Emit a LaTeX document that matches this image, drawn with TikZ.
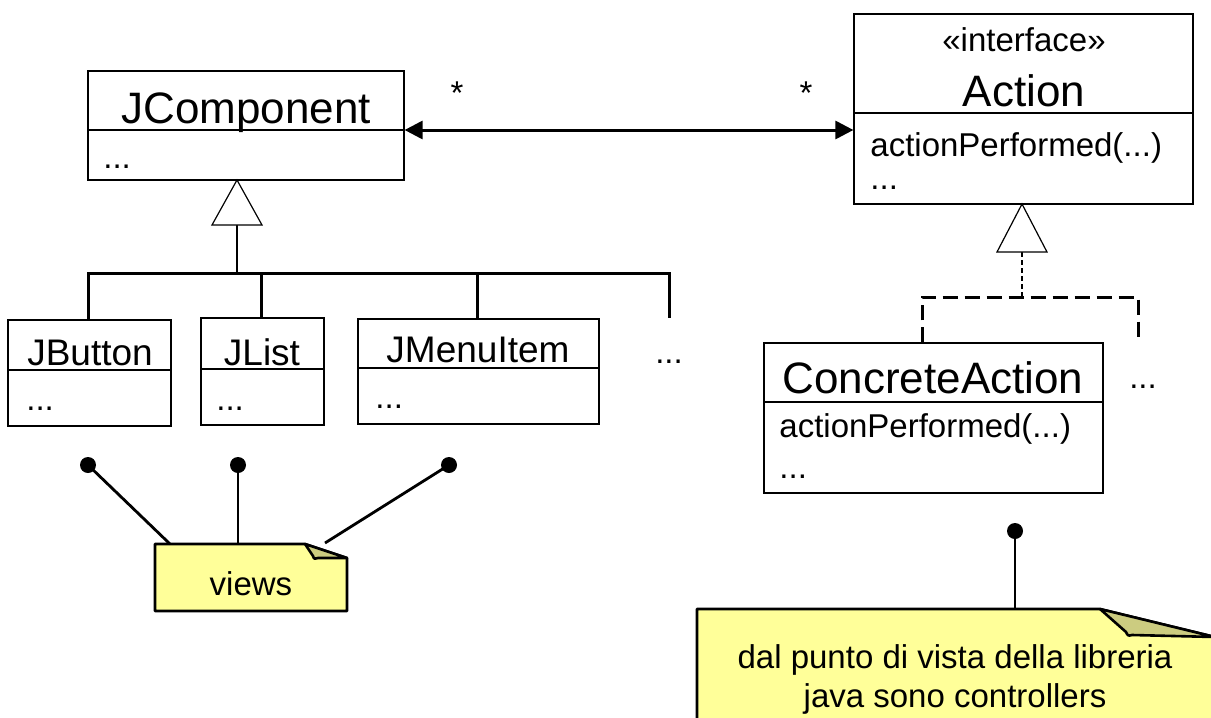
\documentclass[tikz,border=0pt]{standalone}
\usepackage{fontspec}
\setmainfont{Liberation Sans}
\usetikzlibrary{arrows.meta,fit}
\definecolor{noteyellow}{HTML}{FFFF99}
\definecolor{notefold}{HTML}{CCCC80}
\begin{document}
\begin{tikzpicture}[x=0.5pt,y=-0.5pt,
  classbox/.style={draw, line width=0.6pt, inner sep=0pt},
  divider/.style={line width=0.6pt},
  bigname/.style={inner sep=0pt, anchor=base, font=\fontsize{22}{26}\selectfont},
  midname/.style={inner sep=0pt, anchor=base, font=\fontsize{18.5}{22}\selectfont},
  member/.style={inner sep=0pt, anchor=base west, font=\fontsize{16.5}{20}\selectfont},
  centred/.style={inner sep=0pt, anchor=base, font=\fontsize{16.5}{20}\selectfont},
  assoc/.style={line width=1.5pt, {Triangle[length=9pt,width=9pt]}-{Triangle[length=9pt,width=9pt]}},
  genhead/.style={line width=0.6pt, fill=white},
  stem/.style={line width=0.6pt},
  bar/.style={line width=1.5pt},
  dashstem/.style={line width=0.6pt, dash pattern=on 2.5pt off 1.5pt},
  dashbar/.style={line width=1.5pt, dash pattern=on 7.5pt off 3.5pt},
  pin/.style={circle, fill=black, inner sep=0pt, minimum size=8pt},
  pinline/.style={line width=1.4pt},
  notebody/.style={fill=noteyellow, draw=black, line width=1.3pt, line join=round},
  noteflap/.style={fill=notefold, draw=black, line width=1.3pt, line join=round}
]
\path[use as bounding box, clip] (0,0) rectangle (1211,718);

% ---------- class boxes ----------
\node[classbox, fit={(88,71) (404,180)}] (jc) {};
\draw[divider] (88,130) -- (404,130);
\node[bigname] (jcname) at (246,123) {JComponent};
\node[member] (jcmem) at (103,168) {...};

\node[classbox, fit={(854,14) (1193,204)}] (act) {};
\draw[divider] (854,113) -- (1193,113);
\node[centred] (actst) at (1024,51) {«interface»};
\node[bigname] (actname) at (1024,106) {Action};
\node[member] (actop) at (870,156) {actionPerformed(...)};
\node[member] (actmem) at (870,189) {...};

\node[classbox, fit={(8,320) (171,426)}] (jb) {};
\draw[divider] (8,370) -- (171,370);
\node[midname] (jbname) at (90,365) {JButton};
\node[member] (jbmem) at (26,410) {...};

\node[classbox, fit={(201,318) (324,425)}] (jl) {};
\draw[divider] (201,369) -- (324,369);
\node[midname] (jlname) at (262,365) {JList};
\node[member] (jlmem) at (216,410) {...};

\node[classbox, fit={(358,319) (599,424)}] (jm) {};
\draw[divider] (358,368) -- (599,368);
\node[midname] (jmname) at (478,362) {JMenuItem};
\node[member] (jmmem) at (375,408) {...};

\node[centred] (moreviews) at (669,363) {...};

\node[classbox, fit={(764,343) (1103,493)}] (ca) {};
\draw[divider] (764,402) -- (1103,402);
\node[bigname] (caname) at (933,393) {ConcreteAction};
\node[member] (caop) at (779,437) {actionPerformed(...)};
\node[member] (camem) at (779,478) {...};

\node[centred] (moreactions) at (1143,388) {...};

% ---------- association ----------
\coordinate (assocrow) at (0,130);
\draw[assoc] (jc.east |- assocrow) -- (act.west |- assocrow);
\node[centred] (mult1) at (457,104) {*};
\node[centred] (mult2) at (806,104) {*};

% ---------- generalisation of JComponent ----------
\coordinate (g1tip) at (237,180);
\coordinate (g1base) at (237,225);
\coordinate (g1hub) at (237,273);
\coordinate (g1more) at (669,318);
\draw[bar] (jb.north -| 88,0) |- (g1more |- g1hub) -- (g1more);
\draw[bar] (jl.north -| 261,0) -- (261,273);
\draw[bar] (jm.north -| 477,0) -- (477,273);
\draw[stem] (g1base) -- (g1hub);
\draw[genhead] (g1tip) -- (212,225) -- (262,225) -- cycle;

% ---------- realisation of Action ----------
\coordinate (g2tip) at (1022,204);
\coordinate (g2base) at (1022,252);
\coordinate (g2hub) at (1022,297);
\coordinate (g2left) at (922,343);
\coordinate (g2more) at (1138,340);
\draw[dashstem] (g2base) -- (g2hub);
\draw[dashbar] (ca.north -| g2left) |- (g2hub) -| (g2more);
\draw[genhead] (g2tip) -- (997,252) -- (1047,252) -- cycle;

% ---------- note: views ----------
\draw[notebody] (155,544) -- (305,544) -- (347,558) -- (347,611) -- (155,611) -- cycle;
\draw[noteflap] (305,544) -- (347,558) -- (318,558) .. controls (314,559) .. (313,556) -- cycle;
\node[centred] (views) at (251,595) {views};

\node[pin] (p1) at (88,465) {};
\node[pin] (p2) at (238,465) {};
\node[pin] (p3) at (449,465) {};
\coordinate (v1) at (170,544);
\coordinate (v2) at (238,544);
\coordinate (v3) at (325,543);
\draw[pinline] (p1.center) -- (v1);
\draw[pinline] (p2.center) -- (v2);
\draw[pinline] (p3.center) -- (v3);

% ---------- note: controllers ----------
\draw[notebody] (697,609) -- (1100,609) -- (1215,637) -- (1215,760) -- (697,760) -- cycle;
\draw[noteflap] (1100,609) -- (1215,637) -- (1132,635) .. controls (1128,636) .. (1126,632) -- cycle;
\node[centred] (ctl1) at (955,668) {dal punto di vista della libreria};
\node[centred] (ctl2) at (955,707) {java sono controllers};

\node[pin] (p4) at (1015,531) {};
\coordinate (c1) at (1015,609);
\draw[pinline] (p4.center) -- (c1);
\end{tikzpicture}
\end{document}
